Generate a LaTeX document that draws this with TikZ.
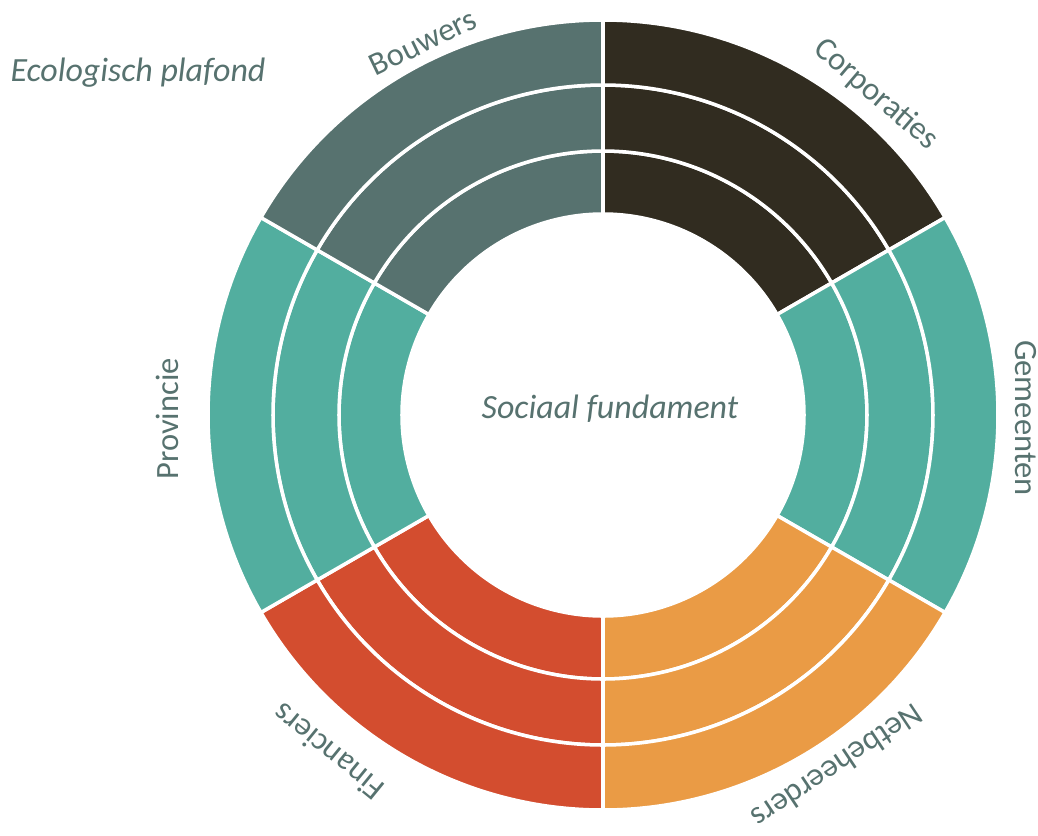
\documentclass[tikz,border=0pt]{standalone}
\usepackage{fontspec}
\setmainfont{Carlito}
\usepackage{tikz}
\usetikzlibrary{calc}
\definecolor{corpcol}{HTML}{312C20}
\definecolor{gemcol}{HTML}{52AE9F}
\definecolor{bouwcol}{HTML}{57726F}
\definecolor{netcol}{HTML}{EA9B45}
\definecolor{fincol}{HTML}{D34D2F}
\definecolor{labelcol}{HTML}{57726F}

\begin{document}
\begin{tikzpicture}[
        ring/.style={draw=white, line width=2pt},
        party/.style={text=labelcol, font=\fontsize{18.5}{20}\selectfont, inner sep=0pt},
        title/.style={text=labelcol, font=\fontsize{19.3}{21}\selectfont\itshape, inner sep=0pt},
        ]
        \useasboundingbox (-12.06,-8.40) rectangle (8.70,8.30);

        % sectors, three rings each
        \foreach \a/\col in {30/corpcol, -30/gemcol, -90/netcol, 210/fincol, 150/gemcol, 90/bouwcol}
            \foreach \ri/\ro in {4.02/5.28, 5.28/6.6, 6.6/7.9}
                \fill[\col, ring] (\a:\ri) arc[start angle=\a, delta angle=60, radius=\ri]
                    -- ($(\a+60:\ro)$) arc[start angle=\a+60, delta angle=-60, radius=\ro] -- cycle;

        \node (bouwers) at (115.8:8.28) [party, rotate=25.8] {Bouwers};
        \node (corporaties) at (49.6:8.42) [party, rotate=-40.4] {Corporaties};
        \node (gemeenten) at (-0.4:8.46) [party, rotate=-90] {Gemeenten};
        \node (netbeheerders) at (-56.3:8.46) [party, rotate=-146.3] {Netbeheerders};
        \node (financiers) at (230.8:8.70) [party, rotate=140.8] {Financiers};
        \node (provincie) at (180.5:8.72) [party, rotate=90] {Provincie};

        \node (plafond) at (-9.30,6.84) [title] {Ecologisch plafond};
        \node (fundament) at (0.14,0.12) [title] {Sociaal fundament};
    \end{tikzpicture}
\end{document}
